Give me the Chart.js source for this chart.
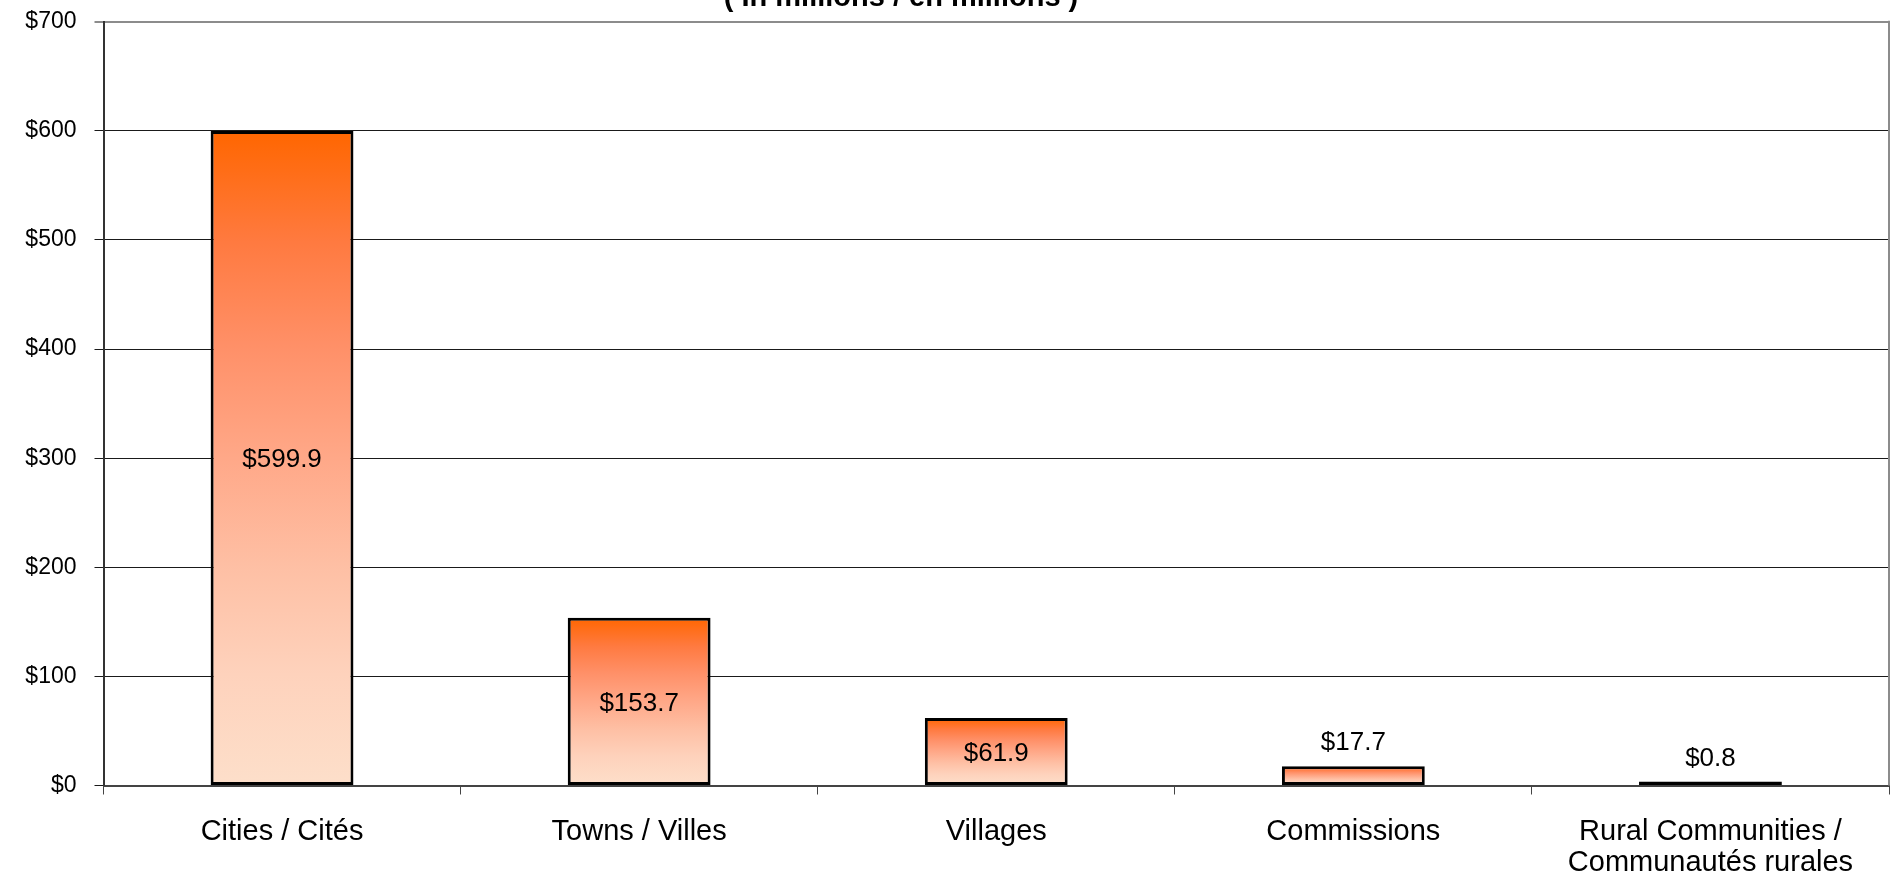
<!DOCTYPE html>
<html>
<head>
<meta charset="utf-8">
<script src="https://cdn.jsdelivr.net/npm/chart.js@4.4.1/dist/chart.umd.min.js"></script>
<style>
  html, body { margin: 0; padding: 0; background: #fff; overflow: hidden; }
  #wrap { position: absolute; left: 0; top: 0; width: 1898px; height: 879px; }
</style>
</head>
<body>
<div id="wrap"><canvas id="c" width="1898" height="879"></canvas></div>
<script>
const titleText = '( In millions / en millions )';
const categories = [
  'Cities / Cités',
  'Towns / Villes',
  'Villages',
  'Commissions',
  ['Rural Communities /', 'Communautés rurales']
];
const values = [599.9, 153.7, 61.9, 17.7, 0.8];
const yTicks = [0, 100, 200, 300, 400, 500, 600, 700];

const FONT = '"Liberation Sans", Arial, sans-serif';

const gradStops = [
  [0.00, '#FF6600'],
  [0.17, '#FF7A40'],
  [0.33, '#FF9068'],
  [0.50, '#FFA888'],
  [0.67, '#FEC0A5'],
  [0.83, '#FED2BC'],
  [1.00, '#FDDFCA']
];

function barGradient(ctx) {
  const chart = ctx.chart;
  if (!chart.chartArea || ctx.type !== 'data') return '#FFA888';
  const ys = chart.scales.y;
  const top = ys.getPixelForValue(values[ctx.dataIndex]);
  const bottom = ys.getPixelForValue(0);
  const g = chart.ctx.createLinearGradient(0, top, 0, Math.max(bottom, top + 1));
  gradStops.forEach(s => g.addColorStop(s[0], s[1]));
  return g;
}

const titlePlugin = {
  id: 'clippedTitle',
  afterDraw(chart) {
    const c = chart.ctx;
    c.save();
    c.font = 'bold 29px ' + FONT;
    c.fillStyle = '#000';
    c.textAlign = 'center';
    c.textBaseline = 'alphabetic';
    c.fillText(titleText, 901, 6);
    c.restore();
  }
};

const framePlugin = {
  id: 'frame',
  beforeDatasetsDraw(chart) {
    const a = chart.chartArea;
    const c = chart.ctx;
    c.save();
    c.strokeStyle = '#8C8C8C';
    c.lineWidth = 2;
    c.beginPath();
    c.moveTo(a.right, a.top - 1);
    c.lineTo(a.right, a.bottom);
    c.stroke();
    c.restore();
  }
};

const valueLabels = {
  id: 'valueLabels',
  afterDatasetsDraw(chart) {
    const c = chart.ctx;
    const meta = chart.getDatasetMeta(0);
    c.save();
    c.font = '26px ' + FONT;
    c.fillStyle = '#000';
    c.textAlign = 'center';
    c.textBaseline = 'alphabetic';
    meta.data.forEach((bar, i) => {
      const h = bar.base - bar.y;
      const txt = '$' + values[i].toFixed(1);
      let y;
      if (h > 45) {
        y = (bar.y + bar.base) / 2 + 9.5;
      } else {
        y = bar.y - 16;
      }
      c.fillText(txt, bar.x, y);
    });
    c.restore();
  }
};

new Chart(document.getElementById('c'), {
  type: 'bar',
  data: {
    labels: categories,
    datasets: [{
      data: values,
      backgroundColor: barGradient,
      borderColor: '#000',
      borderWidth: 3,
      borderSkipped: false,
      minBarLength: 4,
      barPercentage: 0.4,
      categoryPercentage: 1.0
    }]
  },
  options: {
    responsive: false,
    animation: false,
    devicePixelRatio: 1,
    layout: { padding: { top: 21.7, right: 9, bottom: 0, left: 0 } },
    plugins: {
      legend: { display: false },
      title: { display: false },
      tooltip: { enabled: false }
    },
    scales: {
      x: {
        offset: true,
        grid: {
          offset: true,
          drawOnChartArea: false,
          drawTicks: true,
          tickLength: 9,
          color: '#444',
          lineWidth: 1
        },
        border: { color: '#444', width: 2 },
        ticks: {
          color: '#000',
          font: { family: FONT, size: 29, lineHeight: 1.09 },
          padding: 21.5,
          maxRotation: 0,
          autoSkip: false
        },
        afterFit(s) {
          s.height = 93.5;
          s.paddingLeft = 0; s.paddingRight = 0;
        }
      },
      y: {
        min: 0,
        max: 700,
        afterBuildTicks(s) { s.ticks = yTicks.map(v => ({ value: v })); },
        ticks: {
          color: '#000',
          font: { family: FONT, size: 23 },
          padding: 18,
          callback: v => '$' + v
        },
        grid: {
          color: ctx => (ctx.tick && ctx.tick.value === 700) ? '#8C8C8C' : '#1a1a1a',
          lineWidth: ctx => (ctx.tick && ctx.tick.value === 700) ? 2 : 1,
          tickLength: 9,
          drawTicks: true
        },
        border: { color: '#333', width: 2 },
        afterFit(s) {
          s.width = 103.5;
          s.paddingTop = 0; s.paddingBottom = 0;
        }
      }
    }
  },
  plugins: [titlePlugin, framePlugin, valueLabels]
});
</script>
</body>
</html>
